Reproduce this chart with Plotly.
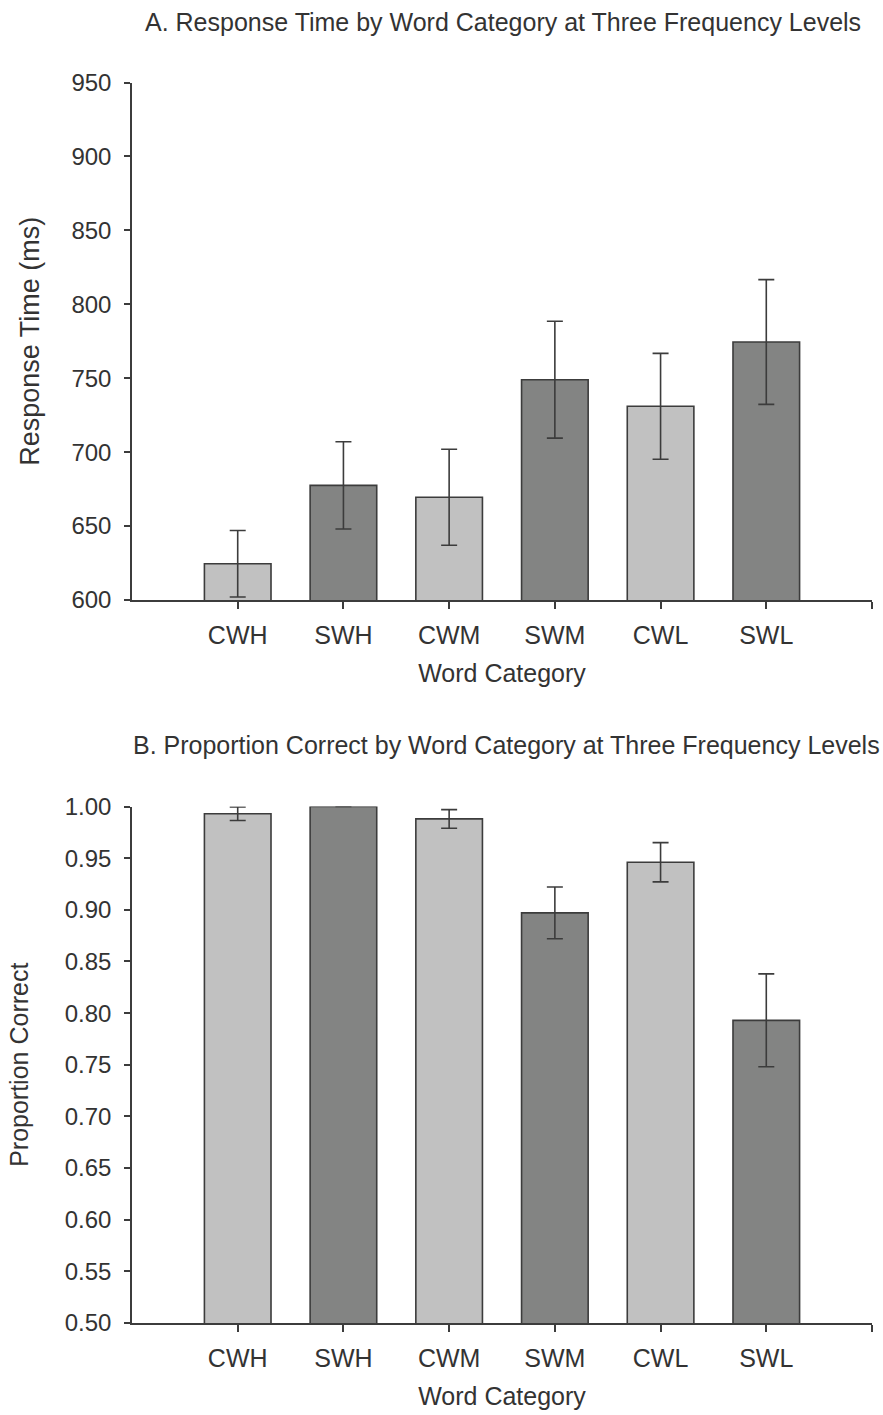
import plotly.graph_objects as go

categories = ["CWH", "SWH", "CWM", "SWM", "CWL", "SWL"]
rt_means = [624.5, 677.5, 669.5, 749.0, 731.0, 774.5]
rt_errors = [22.5, 29.5, 32.5, 39.5, 35.8, 42.2]
pc_means = [0.993, 1.000, 0.988, 0.897, 0.946, 0.793]
pc_errors = [0.0065, None, 0.009, 0.025, 0.019, 0.045]
bar_colors = ["#c1c1c1", "#838483", "#c1c1c1", "#838483", "#c1c1c1", "#838483"]

W, H = 883, 1415
FONT = "Liberation Sans"
TXT = "#333333"
LINE = "#3c3c3c"

xpos = [i + 1 for i in range(len(categories))]

fig = go.Figure()

def add_bars(means, errs, xa, ya):
    fig.add_trace(go.Bar(
        x=xpos, y=means, width=0.63,
        marker=dict(color=bar_colors, line=dict(color=LINE, width=1.6)),
        error_y=dict(type="data", array=errs, visible=True, color=LINE,
                     thickness=1.6, width=8),
        xaxis=xa, yaxis=ya, showlegend=False, hoverinfo="skip",
    ))

add_bars(rt_means, rt_errors, "x", "y")
add_bars(pc_means, pc_errors, "x2", "y2")

x0, x1 = 132 / W, 872 / W
dom_top = [(H - 600) / H, (H - 82.5) / H]
dom_bot = [(H - 1323) / H, (H - 806.5) / H]

xaxis_common = dict(
    range=[0, len(categories) + 1],
    tickvals=xpos + [len(categories) + 1],
    ticktext=categories + [""],
    ticks="outside", ticklen=7, tickwidth=1.5, tickcolor=LINE,
    showline=True, linecolor=LINE, linewidth=1.5,
    showgrid=False, zeroline=False, automargin=False,
    ticklabelstandoff=5,
    tickfont=dict(family=FONT, size=25, color=TXT),
    title=dict(text="Word Category", font=dict(family=FONT, size=25, color=TXT), standoff=17),
    domain=[x0, x1],
)
yaxis_common = dict(
    ticks="outside", ticklen=6, tickwidth=1.5, tickcolor=LINE,
    showline=True, linecolor=LINE, linewidth=1.5,
    showgrid=False, zeroline=False, automargin=False,
    ticklabelstandoff=8,
    tickfont=dict(family=FONT, size=24, color=TXT),
)

fig.update_layout(
    width=W, height=H,
    margin=dict(l=0, r=0, t=0, b=0),
    paper_bgcolor="white", plot_bgcolor="white",
    xaxis=dict(**xaxis_common, anchor="y"),
    yaxis=dict(**yaxis_common, domain=dom_top, range=[600, 950], dtick=50, anchor="x",
               title=dict(text="Response Time (ms)", font=dict(family=FONT, size=27, color=TXT), standoff=24)),
    xaxis2=dict(**xaxis_common, anchor="y2"),
    yaxis2=dict(**yaxis_common, domain=dom_bot, range=[0.5, 1.0], dtick=0.05, tickformat=".2f", anchor="x2",
                title=dict(text="Proportion Correct", font=dict(family=FONT, size=25, color=TXT), standoff=29)),
    annotations=[
        dict(text="A. Response Time by Word Category at Three Frequency Levels",
             x=503 / W, y=(H - 22) / H, xref="paper", yref="paper",
             xanchor="center", yanchor="middle", showarrow=False,
             font=dict(family=FONT, size=25, color=TXT)),
        dict(text="B. Proportion Correct by Word Category at Three Frequency Levels",
             x=506 / W, y=(H - 745) / H, xref="paper", yref="paper",
             xanchor="center", yanchor="middle", showarrow=False,
             font=dict(family=FONT, size=25, color=TXT)),
    ],
)

fig.write_html("out.html", config={"displayModeBar": False},
               post_script="document.body.style.margin='0px';")
